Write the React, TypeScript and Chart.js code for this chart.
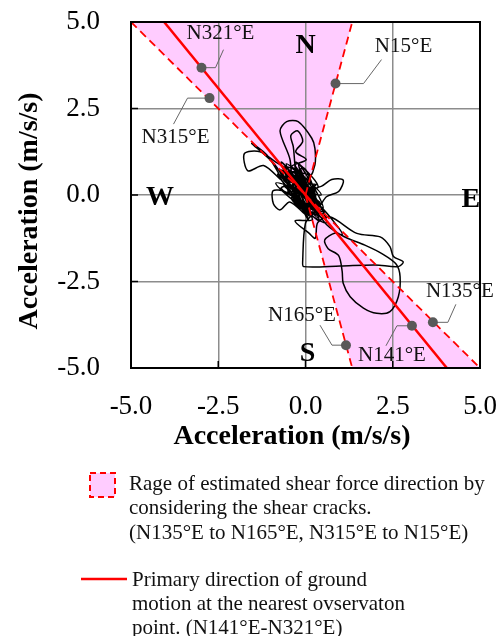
import React, { useEffect, useRef } from "react";
import { Chart, registerables } from "chart.js";

Chart.register(...registerables);

// ---- axis ticks ----
const xTicks = [-5, -2.5, 0, 2.5, 5];
const yTicks = [-5, -2.5, 0, 2.5, 5];

// ---- shaded ranges of estimated shear force direction ----
const upperWedgeX = [0, -5, 1.34, 0];
const upperWedgeY = [0, 5, 5, 0];
const lowerWedgeX = [0, 5, 1.34, 0];
const lowerWedgeY = [0, -5, -5, 0];

// ---- direction lines ----
const primaryX = [-4.05, 4.05];
const primaryY = [5, -5];
const dash315X = [-5, 0];
const dash315Y = [5, 0];
const dash15X = [0, 1.34];
const dash15Y = [0, 5];
const dash135X = [0, 5];
const dash135Y = [0, -5];
const dash165X = [0, 1.34];
const dash165Y = [0, -5];

// ---- labelled markers ----
const markerLabels = ["N321°E", "N315°E", "N15°E", "N135°E", "N141°E", "N165°E"];
const markerX = [-2.98, -2.75, 0.86, 3.65, 3.05, 1.16];
const markerY = [3.68, 2.8, 3.22, -3.68, -3.78, -4.34];

// ---- compass letters ----
const compassLabels = ["N", "W", "E", "S"];
const compassX = [0, -4.17, 4.74, 0.06];
const compassY = [4.3, -0.09, -0.14, -4.6];

// ---- ground motion orbit (m/s/s) ----
const traceX = [
  0.0, 0.18, -0.22, 0.32, -0.38, 0.08, -0.48, 0.26, -0.62, 0.42, -0.12, 0.22, -0.72, 0.05, -0.3, 0.36,
  -0.55, 0.52, -0.25,
  -0.35, 0.22, -0.58, 0.12, -0.28, 0.48, -0.75, 0.02, -0.42, 0.34, -0.18, -0.62, 0.28, -0.05, -0.5,
  0.55, -0.32, 0.08, -0.7, 0.38, -0.12, -0.48, 0.18, -0.26, 0.44, -0.66, 0.0, -0.38, 0.3, -0.15,
  -0.6, 0.1, -0.5, 0.4, -0.8, 0.2, -0.2, 0.5, -0.7, 0.3, -0.4, 0.6, -0.1, -0.6, 0.35, -0.3, 0.15, -0.55,
  0.45, -0.85, 0.25, -0.15, 0.0, -0.45, 0.4, -0.25, 0.2, -0.65, 0.1, -0.35,
  -0.45, -0.73, -0.54, -0.21, 0.18, 0.27, 0.27, 0.1, -0.2, -0.35, -0.42, -0.22,
  -0.08, -0.28, 0.02, -0.4, 0.12, -0.85, -1.3, -1.75, -1.65, -1.2, -0.7, -1.1, -1.54, -0.9, -0.3, 0.45,
  0.75, 1.08, 0.95, 0.6, 0.3, -0.6, -0.93, -0.92, -0.73, -0.45, 0.0, -0.4, 0.2, -0.3, 0.1, 0.28, 0.35,
  0.7, 1.47, 2.14, 2.42, 2.52, 2.8, 2.66, 2.0, 1.0, -0.05, -0.08, 0.0, 0.25, -0.15, 0.4, 0.95, 1.05,
  0.85, 0.55, 0.65, 0.95, 1.05, 1.08, 1.28, 1.66, 2.04, 2.42, 2.66, 2.71, 2.6, 2.2, 1.7, 1.1, 0.6, 0.2,
  -0.3, 0.15, -0.5, 0.05, -0.18, 0.28, -0.1, 0.05,
];
const traceY = [
  0.0, -0.22, 0.28, -0.38, 0.42, 0.02, 0.58, -0.12, 0.28, -0.52, 0.62, 0.12, 0.72, -0.32, 0.95, 0.22,
  0.05, -0.66, 0.36,
  0.55, -0.28, 0.62, -0.05, 0.82, -0.48, 0.55, -0.42, 0.68, -0.58, 0.35, 0.42, -0.18, 0.78, 0.12,
  -0.55, 0.48, -0.72, 0.95, -0.35, 0.22, 0.7, -0.62, 0.05, -0.25, 0.48, 0.45, -0.05, -0.42, 0.62,
  0.8, -0.1, 0.3, -0.2, 0.6, -0.5, 0.9, -0.4, 0.2, 0.3, -0.1, -0.8, 0.5, 0.5, -0.65, 0.7, -0.35, 0.9,
  0.0, 0.35, -0.55, 0.75, 0.25, 0.15, -0.75, 0.55, -0.05, 0.65, -0.6, 0.25,
  1.05, 1.85, 2.12, 2.12, 1.64, 1.35, 0.87, 0.45, 0.15, 1.4, 1.72, 1.85,
  1.55, 1.25, 1.02, 0.82, 0.4, 0.95, 1.25, 1.2, 0.7, 0.85, 0.45, 1.15, 1.49, 0.9, 0.1, 0.25,
  0.45, 0.43, 0.1, -0.05, -0.4, 0.1, 0.12, -0.25, -0.43, -0.2, -0.55, 0.2, -0.7, -0.75, -1.1, -1.25, -0.8,
  -0.63, -1.11, -1.21, -1.49, -1.78, -1.93, -2.07, -2.02, -2.05, -2.07, -1.9, -0.81, -0.45, 0.05, -0.3, -0.95, -1.15,
  -1.1, -1.3, -1.55, -1.75, -2.2, -2.55, -2.94, -3.27, -3.42, -3.37, -2.94, -2.36, -2.0, -1.7, -1.45, -1.2, -0.85, -0.3,
  0.3, 0.55, 0.65, -0.15, 0.48, 0.02, 0.2, 0.0,
];

// ---- legend / titles text ----
const axisTitle = "Acceleration (m/s/s)";
const legendRangeLines = [
  "Rage of estimated shear force direction by",
  "considering the shear cracks.",
  "(N135°E to N165°E, N315°E to N15°E)",
];
const legendPrimaryLines = [
  "Primary direction of ground",
  "motion at the nearest ovservaton",
  "point. (N141°E-N321°E)",
];

const SERIF = "'Liberation Serif', 'Times New Roman', serif";
const PINK = "#FFCCFF";
const RED = "#FF0000";

// leader line geometry (pixel offsets from marker) and label centers
const leaderPaths: number[][][] = [
  [[0, 0], [14, 0], [22, -18]],
  [[0, 0], [-22, 0], [-36, 26]],
  [[0, 0], [28, 0], [46, -24]],
  [[0, 0], [15, 0], [23, -18]],
  [[0, 0], [-15, 0], [-26, 20]],
  [[0, 0], [-14, 0], [-26, -20]],
];
const labelOffsets: number[][] = [
  [19, -34],
  [-34, 39],
  [68, -37],
  [27, -31],
  [-20, 30],
  [-44, -30],
];

const pts = (xs: number[], ys: number[]) => xs.map((x, i) => ({ x, y: ys[i] }));

const overlayPlugin = {
  id: "overlay",
  beforeDatasetsDraw(chart: any) {
    const { ctx, scales } = chart;
    const x = scales.x;
    const y = scales.y;
    ctx.save();
    ctx.strokeStyle = "#666666";
    ctx.lineWidth = 1;
    markerX.forEach((mx, i) => {
      const px = x.getPixelForValue(mx);
      const py = y.getPixelForValue(markerY[i]);
      ctx.beginPath();
      leaderPaths[i].forEach(([dx, dy], k) => {
        if (k === 0) ctx.moveTo(px + dx, py + dy);
        else ctx.lineTo(px + dx, py + dy);
      });
      ctx.stroke();
    });
    ctx.restore();
  },
  afterDraw(chart: any) {
    const { ctx, chartArea: a, scales } = chart;
    const x = scales.x;
    const y = scales.y;
    ctx.save();
    // inward tick marks
    ctx.strokeStyle = "#000";
    ctx.lineWidth = 1.5;
    xTicks.forEach((v) => {
      const px = x.getPixelForValue(v);
      ctx.beginPath();
      ctx.moveTo(px, a.bottom);
      ctx.lineTo(px, a.bottom - 7);
      ctx.stroke();
    });
    yTicks.forEach((v) => {
      const py = y.getPixelForValue(v);
      ctx.beginPath();
      ctx.moveTo(a.left, py);
      ctx.lineTo(a.left + 7, py);
      ctx.stroke();
    });
    // frame
    ctx.lineWidth = 2;
    ctx.strokeRect(a.left, a.top, a.right - a.left, a.bottom - a.top);

    // marker labels
    ctx.fillStyle = "#111";
    ctx.font = `21px ${SERIF}`;
    ctx.textAlign = "center";
    ctx.textBaseline = "middle";
    markerLabels.forEach((t, i) => {
      const px = x.getPixelForValue(markerX[i]);
      const py = y.getPixelForValue(markerY[i]);
      ctx.fillText(t, px + labelOffsets[i][0], py + labelOffsets[i][1]);
    });

    // compass letters
    ctx.fillStyle = "#000";
    ctx.font = `bold 28px ${SERIF}`;
    compassLabels.forEach((t, i) => {
      ctx.fillText(t, x.getPixelForValue(compassX[i]), y.getPixelForValue(compassY[i]));
    });

    // axis titles
    ctx.font = `bold 28px ${SERIF}`;
    ctx.fillText(axisTitle, 292, 437);
    ctx.save();
    ctx.translate(30, 211);
    ctx.rotate(-Math.PI / 2);
    ctx.fillText(axisTitle, 0, 0);
    ctx.restore();

    // legend: range box
    ctx.fillStyle = PINK;
    ctx.fillRect(90, 473, 25, 24);
    ctx.strokeStyle = RED;
    ctx.lineWidth = 2;
    ctx.setLineDash([6, 4]);
    ctx.strokeRect(90, 473, 25, 24);
    ctx.setLineDash([]);
    ctx.fillStyle = "#111";
    ctx.font = `21px ${SERIF}`;
    ctx.textAlign = "left";
    legendRangeLines.forEach((t, i) => ctx.fillText(t, 129, 484 + i * 24.5));

    // legend: primary direction line
    ctx.strokeStyle = RED;
    ctx.lineWidth = 2.5;
    ctx.beginPath();
    ctx.moveTo(81, 579);
    ctx.lineTo(127, 579);
    ctx.stroke();
    legendPrimaryLines.forEach((t, i) => ctx.fillText(t, 132, 580 + i * 24));
    ctx.restore();
  },
};

export default function App() {
  const ref = useRef<HTMLCanvasElement | null>(null);

  useEffect(() => {
    if (!ref.current) return;
    const lineDs = (data: any[], color: string, width: number, dash: number[] = []) => ({
      data,
      borderColor: color,
      borderWidth: width,
      borderDash: dash,
      pointRadius: 0,
      fill: false,
      tension: 0,
    });
    const chart = new Chart(ref.current, {
      type: "line",
      data: {
        datasets: [
          {
            data: pts(markerX, markerY),
            showLine: false,
            pointRadius: 5,
            pointBackgroundColor: "#595959",
            pointBorderColor: "#595959",
            borderWidth: 0,
          } as any,
          lineDs(pts(primaryX, primaryY), RED, 2.5),
          lineDs(pts(dash315X, dash315Y), RED, 1.8, [8, 5]),
          lineDs(pts(dash15X, dash15Y), RED, 1.8, [8, 5]),
          lineDs(pts(dash135X, dash135Y), RED, 1.8, [8, 5]),
          lineDs(pts(dash165X, dash165Y), RED, 1.8, [8, 5]),
          {
            data: pts(traceX, traceY),
            borderColor: "#000",
            borderWidth: 1.5,
            pointRadius: 0,
            fill: false,
            tension: 0.3,
          },
          {
            data: pts(upperWedgeX, upperWedgeY),
            borderColor: "transparent",
            borderWidth: 0,
            backgroundColor: PINK,
            pointRadius: 0,
            fill: "shape",
            tension: 0,
          } as any,
          {
            data: pts(lowerWedgeX, lowerWedgeY),
            borderColor: "transparent",
            borderWidth: 0,
            backgroundColor: PINK,
            pointRadius: 0,
            fill: "shape",
            tension: 0,
          } as any,
        ],
      },
      options: {
        responsive: false,
        animation: false,
        events: [],
        layout: { padding: { left: 0, top: 22, right: 19, bottom: 0 } },
        plugins: {
          legend: { display: false },
          tooltip: { enabled: false },
          filler: { drawTime: "beforeDraw" } as any,
        },
        scales: {
          x: {
            type: "linear",
            min: -5,
            max: 5,
            afterFit: (s: any) => {
              s.height = 268;
              s.paddingLeft = 0;
              s.paddingRight = 0;
            },
            afterBuildTicks: (s: any) => {
              s.ticks = xTicks.map((v) => ({ value: v }));
            },
            ticks: {
              padding: 23,
              color: "#000",
              font: { family: SERIF, size: 27 },
              callback: (v: any) => Number(v).toFixed(1),
              maxRotation: 0,
            },
            grid: { color: "#8c8c8c", lineWidth: 1.5, drawTicks: false },
            border: { display: false },
          },
          y: {
            type: "linear",
            min: -5,
            max: 5,
            afterFit: (s: any) => {
              s.width = 131;
              s.paddingTop = 0;
              s.paddingBottom = 0;
            },
            afterBuildTicks: (s: any) => {
              s.ticks = yTicks.map((v) => ({ value: v }));
            },
            ticks: {
              padding: 31,
              color: "#000",
              font: { family: SERIF, size: 27 },
              callback: (v: any) => Number(v).toFixed(1),
            },
            grid: { color: "#8c8c8c", lineWidth: 1.5, drawTicks: false },
            border: { display: false },
          },
        },
      },
      plugins: [overlayPlugin],
    });
    return () => chart.destroy();
  }, []);

  return (
    <div style={{ position: "absolute", left: 0, top: 0, width: 499, height: 636, background: "#fff" }}>
      <canvas ref={ref} width={499} height={636} style={{ display: "block" }} />
    </div>
  );
}
